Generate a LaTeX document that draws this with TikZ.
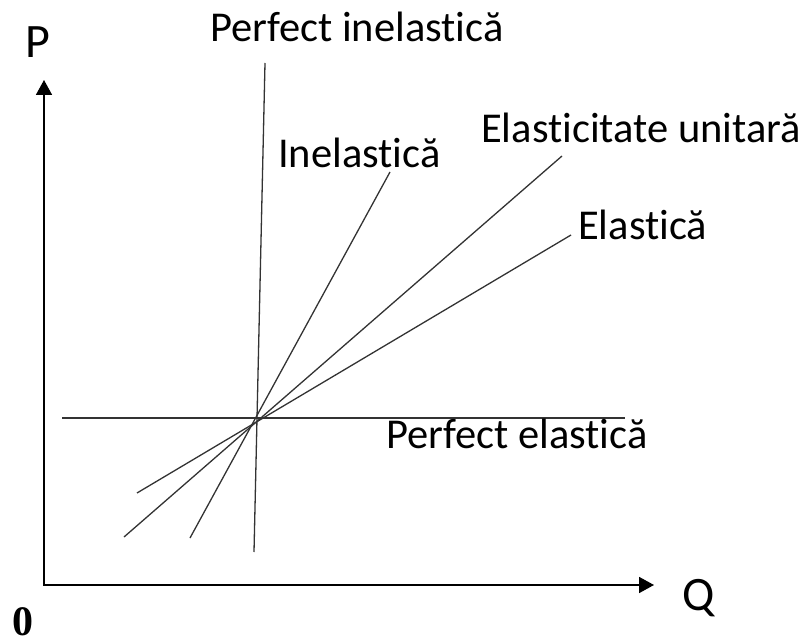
\documentclass[tikz,border=0pt]{standalone}
\usepackage{fontspec}
\setmainfont{Carlito}[Ligatures={NoCommon,NoContextual}]
\newfontfamily\zerofont{Liberation Serif}
\usetikzlibrary{arrows.meta}
\begin{document}
\begin{tikzpicture}[x=1pt,y=-1pt,
  curve/.style={line width=1.3pt, black!80},
  axis/.style={line width=1.8pt, black},
  lbl/.style={anchor=base west, inner sep=0pt, font=\fontsize{42.5}{42.5}\selectfont},
  axlbl/.style={anchor=base west, inner sep=0pt, font=\fontsize{48}{48}\selectfont}]
\useasboundingbox (0,0) rectangle (806,644);
% axes
\coordinate (orig) at (44,585);
\coordinate (ytip) at (44,80);
\coordinate (xtip) at (654,585);
\draw[axis, {Triangle[length=15pt,width=16pt]}-{Triangle[length=15pt,width=16pt]}] (ytip) -- (orig) -- (xtip);
% center
\coordinate (C) at (256,418);
% perfect elastic (horizontal)
\coordinate (peL) at (62,418);
\coordinate (peR) at (625,418);
\draw[curve] (peL) -- (peR);
% perfect inelastic (vertical)
\coordinate (piT) at (265,63);
\coordinate (piB) at (254,552);
\draw[curve] (piB) -- (piT);
% inelastic
\coordinate (inT) at (390,172);
\coordinate (inB) at (190,538);
\draw[curve] (inB) -- (inT);
% unit elastic
\coordinate (unT) at (562,156);
\coordinate (unB) at (124,537);
\draw[curve] (unB) -- (unT);
% elastic
\coordinate (elT) at (571,235);
\coordinate (elB) at (137,493);
\draw[curve] (elB) -- (elT);
% labels
\node[lbl] (tpi) at (210,42) {Perfect inelastică};
\node[lbl] (tin) at (278,168) {Inelastică};
\node[lbl] (tun) at (481,143) {Elasticitate unitară};
\node[lbl] (tel) at (578,240) {Elastică};
\node[lbl] (tpe) at (386,448) {Perfect elastică};
\node[axlbl] (tP) at (25,58) {P};
\node[axlbl] (tQ) at (682,610) {Q};
\node[anchor=base west, inner sep=0pt, font=\zerofont\bfseries\fontsize{42}{42}\selectfont] (t0) at (12,635) {0};
\end{tikzpicture}
\end{document}
